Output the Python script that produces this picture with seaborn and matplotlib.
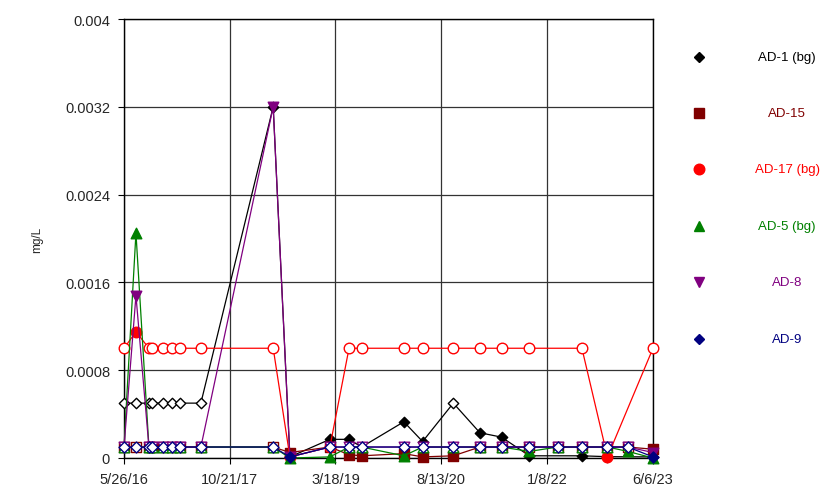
import numpy as np
import pandas as pd
import matplotlib
matplotlib.use("Agg")
import matplotlib.pyplot as plt
from matplotlib.lines import Line2D
import seaborn as sns

# sample dates
sample_dates = pd.to_datetime([
    "2016-05-26", "2016-07-23", "2016-09-24", "2016-10-11", "2016-12-01",
    "2017-01-14", "2017-02-22", "2017-06-03", "2018-05-20", "2018-08-09",
    "2019-02-19", "2019-05-23", "2019-07-23", "2020-02-13", "2020-05-14",
    "2020-10-10", "2021-02-16", "2021-06-01", "2021-10-14", "2022-03-01",
    "2022-06-26", "2022-10-28", "2023-02-04", "2023-06-06",
])

# values in mg/L, None = not sampled; detect 1 = filled marker, 0 = open (non-detect)
ad1_vals = [0.0005, 0.0005, 0.0005, 0.0005, 0.0005, 0.0005, 0.0005, 0.0005, 0.0032, 0.00001,
            0.00017, 0.00017, 0.0001, 0.00033, 0.00015, 0.0005, 0.00023, 0.00019, 0.00002, None,
            0.00002, 0.000012, None, 0.00001]
ad1_detect = [0, 0, 0, 0, 0, 0, 0, 0, 1, 1, 1, 1, 0, 1, 1, 0, 1, 1, 1, 0, 1, 1, 0, 1]

ad15_vals = [0.0001, 0.0001, 0.0001, 0.0001, 0.0001, 0.0001, 0.0001, 0.0001, 0.0001, 0.00005,
             0.0001, 0.00003, 0.00002, 0.00004, 0.00001, 0.00002, 0.0001, 0.0001, 0.0001, 0.0001,
             0.0001, 0.0001, 0.0001, 0.00008]
ad15_detect = [0, 0, 0, 0, 0, 0, 0, 0, 0, 1, 0, 1, 1, 1, 1, 1, 0, 0, 0, 0, 0, 0, 0, 1]

ad17_vals = [0.001, 0.00115, 0.001, 0.001, 0.001, 0.001, 0.001, 0.001, 0.001, 0.00001,
             0.0001, 0.001, 0.001, 0.001, 0.001, 0.001, 0.001, 0.001, 0.001, None,
             0.001, 0.00001, None, 0.001]
ad17_detect = [0, 1, 0, 0, 0, 0, 0, 0, 0, 1, 0, 0, 0, 0, 0, 0, 0, 0, 0, 0, 0, 1, 0, 0]

ad5_vals = [0.0001, 0.00205, 0.0001, 0.0001, 0.0001, 0.0001, 0.0001, 0.0001, 0.0001, 0.0,
            0.00001, 0.0001, 0.0001, 0.00002, 0.0001, 0.0001, 0.0001, 0.0001, 0.00006, 0.0001,
            0.0001, 0.0001, 0.00006, 0.0]
ad5_detect = [0, 1, 0, 0, 0, 0, 0, 0, 0, 1, 1, 0, 0, 1, 0, 0, 0, 0, 1, 0, 0, 0, 1, 1]

ad8_vals = [0.0001, 0.00148, 0.0001, 0.0001, 0.0001, 0.0001, 0.0001, 0.0001, 0.0032, 0.00001,
            0.0001, 0.0001, 0.0001, 0.0001, 0.0001, 0.0001, 0.0001, 0.0001, 0.0001, 0.0001,
            0.0001, 0.0001, 0.0001, 0.00005]
ad8_detect = [0, 1, 0, 0, 0, 0, 0, 0, 1, 1, 0, 0, 0, 0, 0, 0, 0, 0, 0, 0, 0, 0, 0, 1]

ad9_vals = [0.0001, 0.0001, 0.0001, 0.0001, 0.0001, 0.0001, 0.0001, 0.0001, 0.0001, 0.00001,
            0.0001, 0.0001, 0.0001, 0.0001, 0.0001, 0.0001, 0.0001, 0.0001, 0.0001, 0.0001,
            0.0001, 0.0001, 0.0001, 0.00001]
ad9_detect = [0, 0, 0, 0, 0, 0, 0, 0, 0, 1, 0, 0, 0, 0, 0, 0, 0, 0, 0, 0, 0, 0, 0, 1]

series_names = ["AD-1 (bg)", "AD-15", "AD-17 (bg)", "AD-5 (bg)", "AD-8", "AD-9"]
series_colors = ["#000000", "#800000", "#ff0000", "#008000", "#800080", "#000080"]
series_markers = ["D", "s", "o", "^", "v", "D"]
series_msize = [5.3, 7.0, 7.6, 7.6, 7.6, 5.6]

tick_dates = pd.to_datetime(["2016-05-26", "2017-10-21", "2019-03-18",
                             "2020-08-13", "2022-01-08", "2023-06-06"])
y_ticks = [0, 0.0008, 0.0016, 0.0024, 0.0032, 0.004]
y_tick_labels = ["0", "0.0008", "0.0016", "0.0024", "0.0032", "0.004"]

all_vals = [ad1_vals, ad15_vals, ad17_vals, ad5_vals, ad8_vals, ad9_vals]
all_detect = [ad1_detect, ad15_detect, ad17_detect, ad5_detect, ad8_detect, ad9_detect]

sns.set_theme(style="white")
plt.rcParams["font.family"] = ["Liberation Sans", "DejaVu Sans"]

fig = plt.figure(figsize=(8.21, 4.89), dpi=100)
ax = fig.add_axes([124 / 821, 1 - 459 / 489, (653 - 124) / 821, (459 - 20) / 489])

for i, name in enumerate(series_names):
    df = pd.DataFrame({"date": sample_dates,
                       "value": pd.array(all_vals[i], dtype="Float64"),
                       "detect": all_detect[i]}).dropna()
    df["value"] = df["value"].astype(float)
    c = series_colors[i]
    m = series_markers[i]
    s = series_msize[i] ** 2
    z = 3 + i
    sns.lineplot(data=df, x="date", y="value", color=c, lw=0.9, ax=ax,
                 estimator=None, sort=False, zorder=z, clip_on=False)
    det = df[df["detect"] == 1]
    nd = df[df["detect"] == 0]
    sns.scatterplot(data=nd, x="date", y="value", marker=m, s=s, color="white",
                    edgecolor=c, linewidth=1.0, ax=ax, zorder=z + 0.5, clip_on=False)
    sns.scatterplot(data=det, x="date", y="value", marker=m, s=s, color=c,
                    edgecolor=c, linewidth=1.0, ax=ax, zorder=z + 0.5, clip_on=False)

ax.set_xlim(tick_dates[0], tick_dates[-1])
ax.set_ylim(0, 0.004)
ax.set_xticks(tick_dates)
ax.set_xticklabels([f"{d.month}/{d.day}/{d.year % 100:02d}" for d in tick_dates])
ax.set_yticks(y_ticks)
ax.set_yticklabels(y_tick_labels)
ax.set_xlabel("")
ax.set_ylabel("mg/L", fontsize=8.5, labelpad=16)
ax.tick_params(axis="both", labelsize=10.5, direction="out", length=4,
               width=0.8, color="black", pad=6, left=True, bottom=True)
ax.grid(True, color="#333333", lw=0.9)
ax.set_axisbelow(True)
for spine in ax.spines.values():
    spine.set_visible(True)
    spine.set_color("black")
    spine.set_linewidth(1.0)

handles = [Line2D([], [], marker=series_markers[i], linestyle="none",
                  markerfacecolor=series_colors[i], markeredgecolor=series_colors[i],
                  markersize=series_msize[i]) for i in range(len(series_names))]
leg = ax.legend(handles, series_names, loc="upper left",
                bbox_to_anchor=(692 / 821, 1 - 53 / 489), bbox_transform=fig.transFigure,
                frameon=False, fontsize=9.5, labelspacing=3.35, handlelength=1.0,
                borderpad=0, borderaxespad=0)

# centred coloured labels next to the legend markers
fig.canvas.draw()
inv = fig.transFigure.inverted()
for h, t, name, c in zip(leg.legend_handles, leg.get_texts(), series_names, series_colors):
    bb = h.get_window_extent()
    yc = inv.transform((0, (bb.y0 + bb.y1) / 2))[1]
    t.set_visible(False)
    fig.text(787 / 821, yc, name, ha="center", va="center", fontsize=9.5, color=c)

fig.savefig("out.png", dpi=100)
